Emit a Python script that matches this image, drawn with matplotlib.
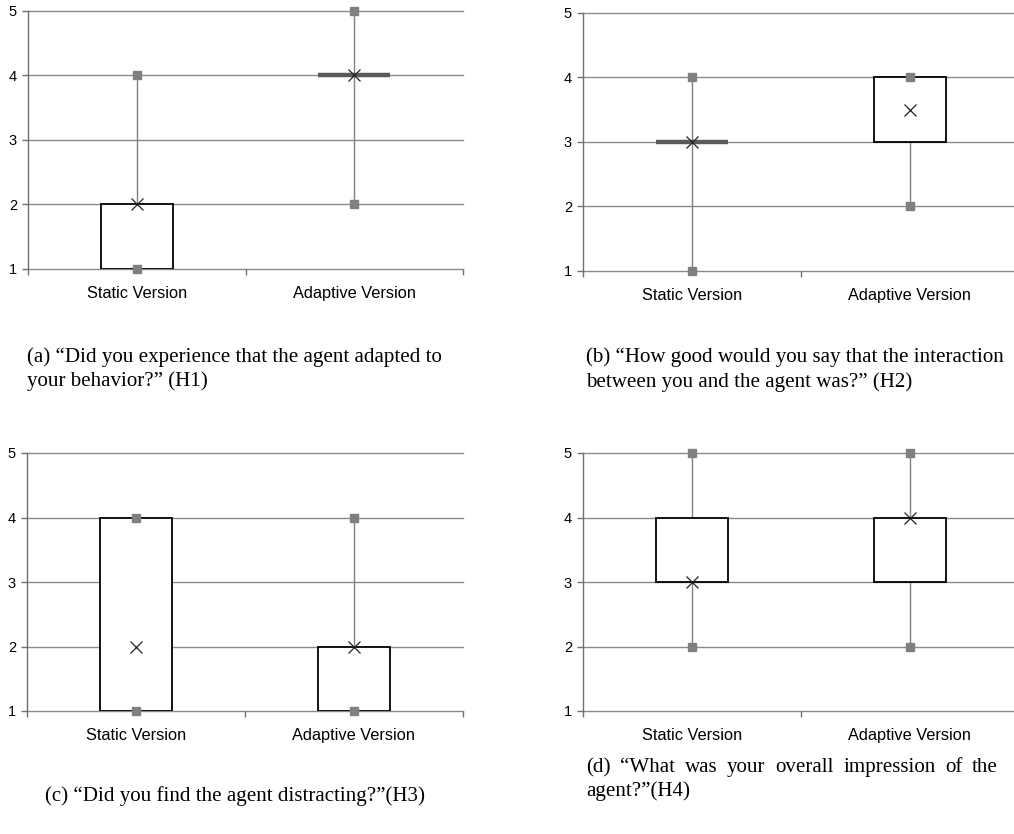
import numpy as np
import matplotlib.pyplot as plt

# data
groups = ["Static Version", "Adaptive Version"]
yticks = [1, 2, 3, 4, 5]

mins_a = [1, 2]; q1_a = [1, 4]; q3_a = [2, 4]; maxs_a = [4, 5]; means_a = [2, 4]
mins_b = [1, 2]; q1_b = [3, 3]; q3_b = [3, 4]; maxs_b = [4, 4]; means_b = [3, 3.5]
mins_c = [1, 1]; q1_c = [1, 1]; q3_c = [4, 2]; maxs_c = [4, 4]; means_c = [2, 2]
mins_d = [2, 2]; q1_d = [3, 3]; q3_d = [4, 4]; maxs_d = [5, 5]; means_d = [3, 4]

cap_a = ["(a) \u201cDid you experience that the agent adapted to",
         "your behavior?\u201d (H1)"]
cap_b = ["(b) \u201cHow good would you say that the interaction",
         "between you and the agent was?\u201d (H2)"]
cap_c = "(c) \u201cDid you find the agent distracting?\u201d(H3)"
cap_d = ["(d) \u201cWhat was your overall impression of the",
         "agent?\u201d(H4)"]

W, H = 1014, 834
fig = plt.figure(figsize=(W / 100, H / 100), dpi=100)

GRID = '#8a8a8a'
SANS = 'Liberation Sans'
SERIF = 'Liberation Serif'


def px_axes(left, top, right, bottom):
    return fig.add_axes([left / W, 1 - bottom / H, (right - left) / W, (bottom - top) / H])


def draw_panel(ax, mins, q1, q3, maxs, means):
    ax.set_xlim(0, 2)
    ax.set_ylim(1, 5)
    for s in ['top', 'right', 'bottom']:
        ax.spines[s].set_visible(False)
    ax.spines['left'].set_color('#707070')
    ax.spines['left'].set_linewidth(1.0)
    for y in yticks:
        ax.axhline(y, color=GRID, lw=1.0, zorder=1, clip_on=False)

    pos = np.array([0.5, 1.5])
    bw = 0.33
    for i, x in enumerate(pos):
        # whiskers
        ax.plot([x, x], [mins[i], q1[i]], color='#808080', lw=1.0, zorder=2, clip_on=False)
        ax.plot([x, x], [q3[i], maxs[i]], color='#808080', lw=1.0, zorder=2, clip_on=False)
        if q3[i] > q1[i]:
            ax.bar(x, q3[i] - q1[i], bottom=q1[i], width=bw, facecolor='white',
                   edgecolor='black', lw=1.3, zorder=3)
        else:
            ax.plot([x - bw / 2, x + bw / 2], [q1[i], q1[i]], color='#5a5a5a',
                    lw=3.2, zorder=3, solid_capstyle='butt')
        ax.plot([x, x], [mins[i], maxs[i]], ls='none', marker='s', ms=5.5,
                color='#808080', zorder=4, clip_on=False)
    ax.plot(pos, means, ls='none', marker='x', ms=9, mew=0.9, color='#222222', zorder=5)

    ax.set_yticks(yticks)
    ax.set_yticklabels([str(v) for v in yticks], fontfamily=SANS, fontsize=10.5)
    ax.tick_params(axis='y', length=4, width=1, color='#707070', pad=4)
    ax.set_xticks([0, 1, 2])
    ax.set_xticklabels([])
    ax.tick_params(axis='x', which='major', length=4, width=1, color='#707070')
    ax.set_xticks(pos, minor=True)
    ax.set_xticklabels(groups, minor=True, fontfamily=SANS, fontsize=11.8)
    ax.tick_params(axis='x', which='minor', length=0, pad=12)


ax_a = px_axes(28, 11, 463, 269)
draw_panel(ax_a, mins_a, q1_a, q3_a, maxs_a, means_a)
ax_b = px_axes(583, 13, 1019, 271)
draw_panel(ax_b, mins_b, q1_b, q3_b, maxs_b, means_b)
ax_c = px_axes(27, 453, 463, 711)
draw_panel(ax_c, mins_c, q1_c, q3_c, maxs_c, means_c)
ax_d = px_axes(583, 453, 1019, 711)
draw_panel(ax_d, mins_d, q1_d, q3_d, maxs_d, means_d)

CAP = 15.1


def cap_text(x, y, s, **kw):
    # y is the baseline, in pixels from the top
    return fig.text(x / W, 1 - y / H, s, fontfamily=SERIF, fontsize=CAP, va='baseline', **kw)


def justify(x0, x1, y, s):
    words = s.split(' ')
    r = fig.canvas.get_renderer()
    widths = []
    for w in words:
        t = cap_text(0, y, w)
        widths.append(t.get_window_extent(r).width)
        t.remove()
    gap = (x1 - x0 - sum(widths)) / (len(words) - 1)
    x = x0
    for w, wd in zip(words, widths):
        cap_text(x, y, w)
        x += wd + gap


cap_text(27, 362, cap_a[0])
cap_text(27, 386, cap_a[1])
cap_text(586, 362, cap_b[0])
cap_text(586, 387, cap_b[1])
cap_text(235, 801, cap_c, ha='center')
justify(586, 998, 772, cap_d[0])
cap_text(586, 796, cap_d[1])

fig.savefig('out.png', dpi=100)
